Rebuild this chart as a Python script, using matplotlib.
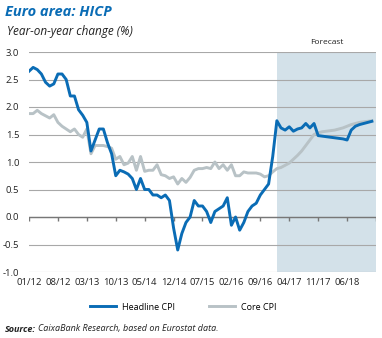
import numpy as np
import matplotlib
matplotlib.use("Agg")
import matplotlib.pyplot as plt

# monthly data 01/2012 - 12/2018 (forecast from 01/2017)
headline = [2.65, 2.72, 2.68, 2.60, 2.45, 2.38, 2.42, 2.60, 2.60, 2.50, 2.20, 2.20,
            1.95, 1.85, 1.72, 1.20, 1.40, 1.60, 1.60, 1.35, 1.15, 0.75, 0.85, 0.82,
            0.78, 0.70, 0.50, 0.70, 0.50, 0.50, 0.40, 0.40, 0.35, 0.40, 0.30, -0.20,
            -0.60, -0.30, -0.10, 0.00, 0.30, 0.20, 0.20, 0.10, -0.10, 0.10, 0.15, 0.20,
            0.35, -0.15, 0.00, -0.24, -0.10, 0.10, 0.20, 0.25, 0.40, 0.50, 0.60, 1.10,
            1.75, 1.62, 1.58, 1.64, 1.56, 1.60, 1.62, 1.70, 1.62, 1.70, 1.48, 1.47,
            1.46, 1.45, 1.44, 1.43, 1.42, 1.40, 1.58, 1.65, 1.68, 1.70, 1.72, 1.74]
core = [1.88, 1.88, 1.94, 1.88, 1.84, 1.80, 1.86, 1.72, 1.65, 1.60, 1.55, 1.60,
        1.50, 1.45, 1.60, 1.15, 1.30, 1.30, 1.30, 1.28, 1.25, 1.05, 1.10, 0.95,
        0.98, 1.10, 0.85, 1.10, 0.83, 0.85, 0.85, 0.95, 0.77, 0.75, 0.70, 0.73,
        0.60, 0.70, 0.63, 0.72, 0.85, 0.88, 0.88, 0.90, 0.88, 1.00, 0.88, 0.95,
        0.85, 0.95, 0.75, 0.75, 0.82, 0.80, 0.80, 0.80, 0.78, 0.73, 0.75, 0.82,
        0.88, 0.90, 0.94, 0.98, 1.05, 1.12, 1.20, 1.30, 1.40, 1.50, 1.53, 1.55,
        1.56, 1.57, 1.58, 1.60, 1.62, 1.65, 1.68, 1.70, 1.72, 1.73, 1.74, 1.75]
tick_labels = ["01/12", "08/12", "03/13", "10/13", "05/14", "12/14",
               "07/15", "02/16", "09/16", "04/17", "11/17", "06/18"]
forecast_start = 60  # 01/17

blue = "#0a6cb5"
grey = "#b8c2c6"
shade = "#d3e1e9"

plt.rcParams['font.family'] = ['Open Sans', 'DejaVu Sans']

fig = plt.figure(figsize=(3.82, 3.38), dpi=100)
ax = fig.add_axes([29/382, 1 - 272/338, 347/382, 220/338])

months = np.arange(len(headline))
ax.axvspan(forecast_start, 84, color=shade, lw=0, zorder=0)
ax.plot(months, core, color=grey, lw=2.1, label="Core CPI", zorder=3)
ax.plot(months, headline, color=blue, lw=2.1, label="Headline CPI", zorder=4)

ax.set_xlim(0, 84)
ax.set_ylim(-1.0, 3.0)
yt = np.arange(-1.0, 3.01, 0.5)
ax.set_yticks(yt)
ax.set_yticklabels([f"{v:.1f}" for v in yt])
ax.yaxis.grid(True, color="#a8a8a8", lw=0.8)
ax.set_axisbelow(True)
ax.axhline(0, color="#777777", lw=1.0, zorder=2)

xt = np.arange(0, 85, 7)
ax.vlines(xt, -0.07, 0, color="#777777", lw=1.0, zorder=2)
ax.set_xticks(xt[:len(tick_labels)])
ax.set_xticklabels(tick_labels)
ax.tick_params(axis="both", length=0, labelsize=6.8, colors="#222222")
ax.tick_params(axis="y", pad=7)
ax.tick_params(axis="x", pad=4)
for s in ax.spines.values():
    s.set_visible(False)

ax.text((forecast_start + 84) / 2, 3.1, "Forecast", ha="center", va="bottom",
        fontsize=6, color="#222222")

h, l = ax.get_legend_handles_labels()
fig.legend(h[::-1], l[::-1], loc="center", bbox_to_anchor=(0.48, 1 - 307/338), ncol=2,
           frameon=False, fontsize=6.5, handlelength=2.8, columnspacing=3.8,
           handletextpad=0.7)

fig.text(5/382, 1 - 12/338, "Euro area: HICP", color=blue, fontsize=10.5,
         fontweight="bold", fontstyle="italic", va="center")
fig.text(7/382, 1 - 32/338, "Year-on-year change (%)", color="#222222", fontsize=8.5,
         fontstyle="italic", va="center")

src = fig.text(5/382, 1 - 329/338, "Source:", fontsize=6.5, fontweight="bold",
               fontstyle="italic", va="center", color="#222222")
fig.canvas.draw()
bb = src.get_window_extent()
fig.text((bb.x1 + 2) / fig.bbox.width, 1 - 329/338,
         "CaixaBank Research, based on Eurostat data.", fontsize=6.5,
         fontstyle="italic", va="center", color="#222222")

fig.savefig("out.png", dpi=100)
